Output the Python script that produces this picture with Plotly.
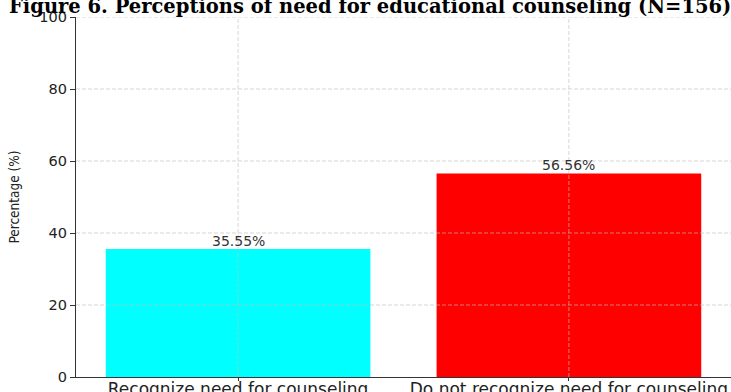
import plotly.graph_objects as go

categories = ["Recognize need for counseling", "Do not recognize need for counseling"]
values = [35.55, 56.56]
bar_colors = ["#00FFFF", "#FF0000"]
y_ticks = [0, 20, 40, 60, 80, 100]
title_text = "Figure 6. Perceptions of need for educational counseling (N=156)"
y_title = "Percentage (%)"

fig = go.Figure()
fig.add_trace(go.Bar(
    x=[0, 1], y=values, marker=dict(color=bar_colors, line=dict(width=0)),
    width=0.8, showlegend=False, hoverinfo="skip",
))

grid_style = dict(color="rgba(190,190,190,0.8)", width=0.8, dash="4px,2px")
for yv in y_ticks[1:]:
    fig.add_shape(type="line", xref="paper", x0=0, x1=1, yref="y", y0=yv, y1=yv,
                  line=grid_style, layer="above")
for i, _ in enumerate(categories):
    fig.add_shape(type="line", xref="x", x0=i, x1=i, yref="paper", y0=0, y1=1,
                  line=grid_style, layer="above")

for i, v in enumerate(values):
    fig.add_annotation(x=i, y=v, text=f"{v:.2f}%", showarrow=False,
                       yanchor="bottom", yshift=-2,
                       font=dict(family="DejaVu Sans", size=14, color="#333333"))

fig.add_annotation(xref="paper", yref="paper", x=(370 - 76) / 655, y=1, yshift=-3,
                   xanchor="center", yanchor="bottom", showarrow=False,
                   text=f"<b>{title_text}</b>",
                   font=dict(family="DejaVu Serif", size=19.5, color="#000000"))

fig.update_layout(
    width=731, height=392,
    margin=dict(l=76, r=0, t=17, b=15, pad=0),
    paper_bgcolor="white", plot_bgcolor="white",
    bargap=0.2,
)
fig.update_xaxes(
    automargin=False,
    range=[-0.49, 1.49], tickmode="array", tickvals=[0, 1], ticktext=categories,
    showgrid=False, zeroline=False, showline=True, linecolor="#333333", linewidth=1.3,
    ticks="outside", ticklen=3, tickcolor="#333333", tickwidth=1,
    ticklabelstandoff=-7,
    tickfont=dict(family="DejaVu Sans", size=17, color="#222222"),
)
fig.update_yaxes(
    automargin=False,
    range=[0, 100], tickmode="array", tickvals=y_ticks,
    showgrid=False, zeroline=False, showline=True, linecolor="#333333", linewidth=1.3,
    ticks="outside", ticklen=5, tickcolor="#333333", tickwidth=1,
    tickfont=dict(family="DejaVu Sans", size=14.5, color="#222222"),
    title=dict(text=y_title,
               font=dict(family="DejaVu Sans Condensed, DejaVu Sans", size=13.5, color="#222222"),
               standoff=16),
)

fig.write_html("out.html", config={"displayModeBar": False},
               post_script="document.body.style.margin='0';document.body.style.overflow='hidden';")
